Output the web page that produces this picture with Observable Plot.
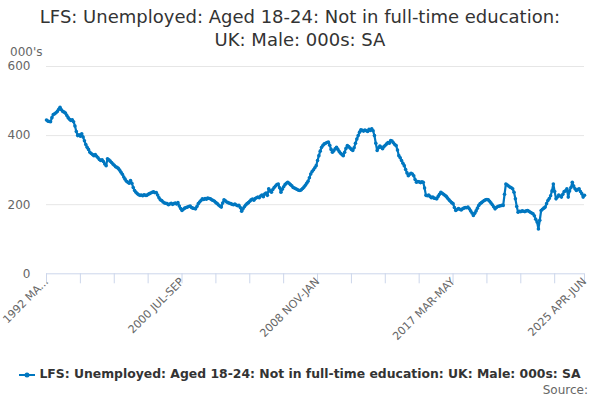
<!DOCTYPE html>
<html>
<head>
<meta charset="utf-8">
<script src="https://cdn.jsdelivr.net/npm/d3@7"></script>
<script src="https://cdn.jsdelivr.net/npm/@observablehq/plot@0.6"></script>
<style>
  html, body { margin: 0; padding: 0; background: #fff; }
  #wrap { position: relative; width: 600px; height: 400px; overflow: hidden; font-family: "DejaVu Sans", sans-serif; }
  #title { position: absolute; top: 5px; left: 0; width: 600px; text-align: center; font-size: 18px; line-height: 23px; color: #333; }
  #unit { position: absolute; top: 45px; left: 10px; font-size: 12px; color: #666; }
  #chart { position: absolute; top: 0; left: 0; }
  #legend { position: absolute; top: 366px; left: 0; width: 600px; text-align: center; font-size: 12.4px; font-weight: bold; color: #333; white-space: nowrap; }
  #legend svg { vertical-align: middle; margin-right: 4px; }
  #source { position: absolute; top: 383px; right: 12px; font-size: 12px; color: #666; }
</style>
</head>
<body>
<div id="wrap">
  <div id="chart"></div>
  <div id="title">LFS: Unemployed: Aged 18-24: Not in full-time education:<br>UK: Male: 000s: SA</div>
  <div id="unit">000's</div>
  <div id="legend"><svg width="16" height="10"><line x1="0" y1="5" x2="16" y2="5" stroke="#0077c0" stroke-width="2"/><circle cx="8" cy="5" r="2.5" fill="#0077c0"/></svg>LFS: Unemployed: Aged 18-24: Not in full-time education: UK: Male: 000s: SA</div>
  <div id="source">Source:</div>
</div>
<script>
// Rolling quarters, monthly, 1992 MAR-MAY .. 2025 APR-JUN (thousands)
const values = [
  445, 442, 441, 440, 452, 461, 463, 466, 470, 476, 482, 475,
  470, 468, 465, 458, 452, 447, 444, 446, 440, 428, 412, 400,
  402, 398, 405, 396, 385, 374, 366, 360, 352, 348, 345, 342,
  345, 340, 336, 331, 328, 330, 325, 318, 313, 333, 330, 326,
  322, 318, 314, 310, 308, 305, 300, 294, 288, 280, 274, 268,
  265, 262, 270, 262, 250, 241, 236, 232, 229, 227, 228, 226,
  229, 227, 227, 230, 232, 234, 236, 237, 235, 235, 228, 220,
  214, 212, 208, 205, 204, 203, 200, 202, 204, 201, 203, 205,
  202, 206, 196, 189, 183, 187, 190, 192, 193, 195, 196, 192,
  190, 189, 188, 195, 203, 208, 212, 217, 215, 218, 216, 219,
  218, 217, 214, 212, 210, 206, 203, 199, 196, 193, 205, 214,
  211, 208, 206, 204, 203, 201, 200, 202, 199, 197, 198, 192,
  181, 188, 194, 199, 203, 206, 210, 214, 216, 213, 218, 220,
  222, 220, 225, 228, 223, 231, 234, 227, 246, 240, 236, 244,
  250, 254, 258, 260, 249, 236, 245, 252, 258, 262, 265, 262,
  258, 255, 250, 248, 246, 244, 242, 241, 243, 247, 251, 256,
  262, 268, 278, 289, 296, 301, 307, 313, 328, 342, 355, 366,
  372, 376, 378, 380, 381, 372, 360, 352, 356, 362, 366, 360,
  354, 349, 345, 342, 352, 363, 371, 368, 364, 360, 357, 365,
  378, 390, 400, 410, 417, 415, 413, 416, 414, 412, 418, 415,
  420, 414, 400, 378, 357, 365, 370, 366, 362, 368, 372, 376,
  380, 378, 386, 384, 379, 374, 371, 358, 342, 336, 328, 320,
  313, 302, 292, 284, 288, 291, 289, 284, 273, 265, 267, 266,
  264, 266, 265, 248, 227, 226, 228, 224, 220, 222, 219, 218,
  217, 224, 230, 236, 233, 230, 227, 224, 219, 214, 210, 206,
  203, 192, 183, 186, 189, 187, 185, 188, 190, 192, 191, 193,
  188, 182, 176, 169, 175, 182, 190, 198, 203, 206, 209, 212,
  214, 215, 214, 210, 205, 200, 194, 188, 192, 195, 196, 197,
  198, 198, 230, 260, 257, 254, 251, 249, 246, 236, 217, 195,
  178, 181, 180, 182, 181, 180, 182, 183, 181, 178, 176, 174,
  168, 158, 150, 130, 155, 183, 187, 190, 193, 203, 212, 218,
  226, 240, 260, 238, 217, 222, 228, 225, 222, 230, 238, 240,
  246, 222, 240, 250, 265, 254, 246, 241, 244, 246, 238, 232,
  222, 227
];

const tickIndex = [0, 100, 200, 300, 397];
const tickLabels = ["1992 MA...", "2000 JUL-SEP", "2008 NOV-JAN", "2017 MAR-MAY", "2025 APR-JUN"];
const minorTicks = [0, 25, 50, 75, 100, 125, 150, 175, 200, 225, 250, 275, 300, 325, 350, 375, 397];
const yTicks = [0, 200, 400, 600];

const data = values.map((v, i) => ({i, v}));
const blue = "#0077c0";

const chart = Plot.plot({
  width: 600,
  height: 360,
  marginTop: 66,
  marginBottom: 86.7,
  marginLeft: 46,
  marginRight: 16,
  x: {type: "linear", domain: [0, values.length - 1]},
  y: {domain: [0, 600]},
  style: {fontFamily: "DejaVu Sans, sans-serif", fontSize: "11px", color: "#666", background: "transparent"},
  marks: [
    Plot.gridY(yTicks.filter(d => d > 0), {stroke: "#e6e6e6", strokeOpacity: 1}),
    Plot.axisY(yTicks, {tickSize: 0, tickPadding: 16, label: null, fill: "#666", fontSize: 12}),
    Plot.ruleY([0], {stroke: "#ccd6eb", strokeWidth: 1}),
    Plot.axisX(minorTicks, {tickSize: 10, stroke: "#ccd6eb", strokeOpacity: 1, tickFormat: () => "", label: null}),
    Plot.axisX(tickIndex, {tickSize: 0, tickPadding: 6, tickRotate: -45, tickFormat: d => tickLabels[tickIndex.indexOf(d)], label: null, fill: "#666", fontSize: 11}),
    Plot.line(data, {x: "i", y: "v", stroke: blue, strokeWidth: 2.2}),
    Plot.dot(data, {x: "i", y: "v", r: 1.8, fill: blue})
  ]
});
document.getElementById("chart").appendChild(chart);
</script>
</body>
</html>
